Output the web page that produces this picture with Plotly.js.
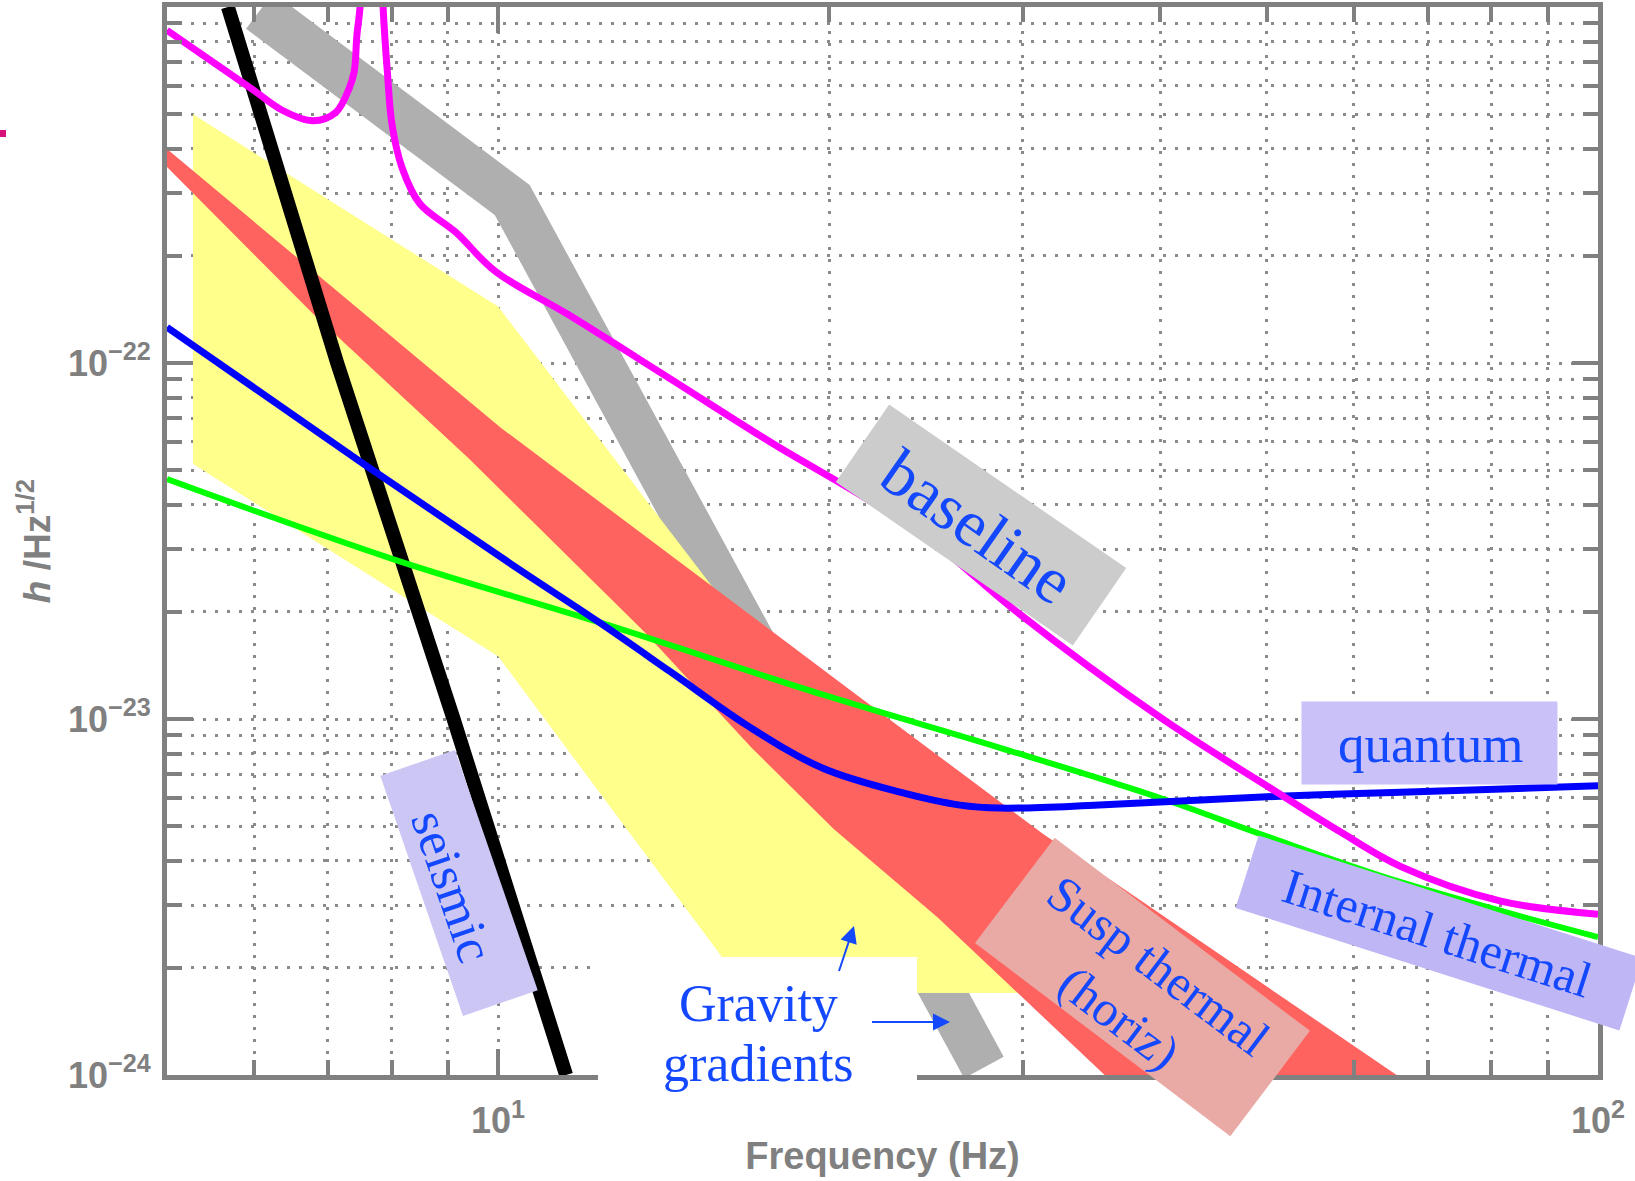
<!DOCTYPE html>
<html><head><meta charset="utf-8">
<script src="https://cdn.plot.ly/plotly-3.0.1.min.js"></script>
<style>html,body{margin:0;padding:0;background:#fff}</style>
</head><body><div id="chart" style="width:1635px;height:1181px"></div>
<script>
// ---------------- data (frequency in Hz, strain h /Hz^1/2) ----------------
const seismicF = [5.68, 7.14, 9.11, 11.53];
const seismicH = [1e-21, 1e-22, 1e-23, 1e-24];

const baselineF = [5.0, 5.48, 5.97, 6.37, 6.79, 7.12, 7.32, 7.40, 7.44, 7.49, 7.55, 7.67, 7.80, 7.86, 7.93, 8.01, 8.18, 8.49, 9.15, 9.94, 11.57, 14.33, 17.74, 21.5, 25.0, 29.5, 40.0, 52.0, 58.3, 66.2, 81.6, 100];
const baselineH = [8.6e-22, 7.07e-22, 5.89e-22, 5.12e-22, 4.79e-22, 5.06e-22, 5.9e-22, 6.6e-22, 8.3e-22, 1.0e-21, 2e-21, 1e-20, 2e-21, 1.0e-21, 6.6e-22, 4.66e-22, 3.53e-22, 2.80e-22, 2.33e-22, 1.81e-22, 1.37e-22, 9.04e-23, 5.96e-23, 4.2e-23, 3.1e-23, 2.02e-23, 1.01e-23, 6.01e-24, 4.82e-24, 3.85e-24, 3.08e-24, 2.83e-24];

const quantumF = [5.0, 7.55, 10.3, 12.35, 14.33, 16.88, 19.74, 23.2, 26.3, 28.6, 35.2, 51.9, 66.2, 100];
const quantumH = [1.26e-22, 5.2e-23, 2.71e-23, 1.87e-23, 1.36e-23, 9.55e-24, 7.27e-24, 6.23e-24, 5.73e-24, 5.62e-24, 5.73e-24, 6.08e-24, 6.23e-24, 6.49e-24];

const internalF = [5.0, 8.06, 12.35, 19.74, 28.6, 40.0, 49.9, 66.2, 100];
const internalH = [4.72e-23, 2.80e-23, 1.87e-23, 1.17e-23, 8.30e-24, 6.0e-24, 4.69e-24, 3.48e-24, 2.44e-24];

const suspUpperF = [5.0, 10.05, 21.1, 31.3, 65.6];
const suspUpperH = [3.99e-22, 6.59e-23, 1.18e-23, 4.75e-24, 1.0e-24];
const suspLowerF = [5.0, 6.78, 9.41, 13.6, 17.0, 20.2, 25.1, 35.6];
const suspLowerH = [3.55e-22, 1.38e-22, 5.38e-23, 1.75e-23, 8.3e-24, 4.9e-24, 2.77e-24, 1.0e-24];

const gravUpperF = [5.28, 10.0, 30.0];
const gravUpperH = [5.0e-22, 1.44e-22, 1.7e-24];
const gravLowerF = [5.28, 10.0, 16.9];
const gravLowerH = [5.2e-23, 1.5e-23, 1.7e-24];

const grayF = [6.07, 10.3, 27.65];
const grayH = [9.76e-22, 2.87e-22, 1.05e-24];

const xTickVals = [10, 100];
const xTickText = ['10<sup>1</sup>', '10<sup>2</sup>'];
const yTickVals = [1e-24, 1e-23, 1e-22];
const yTickText = ['10<sup>\u221224</sup>', '10<sup>\u221223</sup>', '10<sup>\u221222</sup>'];

// ---------------- layout helpers (pixel placement of overlays) ----------------
const Lp = 167, Tp = 7, Wp = 1431, Hp = 1068;
const px = X => (X - Lp) / Wp;
const py = Y => (Tp + Hp - Y) / Hp;
const BLUE = '#1448ff';
const AX = '#808080';
const SERIF = 'Liberation Serif, Times New Roman, serif';
const SANS = 'Liberation Sans, Arial, sans-serif';

function rotBox(cx, cy, w, h, deg, color) {
  const a = deg * Math.PI / 180, c = Math.cos(a), s = Math.sin(a);
  const pts = [[-w/2,-h/2],[w/2,-h/2],[w/2,h/2],[-w/2,h/2]].map(([u,v]) => [cx + u*c - v*s, cy + u*s + v*c]);
  const d = 'M' + pts.map(p => px(p[0]).toFixed(5) + ',' + py(p[1]).toFixed(5)).join(' L') + ' Z';
  return {type:'path', xref:'paper', yref:'paper', path:d, fillcolor:color, line:{color:'rgba(0,0,0,0)', width:0}, layer:'above'};
}
function label(text, cx, cy, deg, size) {
  return {xref:'paper', yref:'paper', x:px(cx), y:py(cy), xanchor:'center', yanchor:'middle',
          text:text, textangle:deg, showarrow:false, font:{family:SERIF, size:size, color:BLUE}};
}
function arrow(hx, hy, tx, ty) {
  return {xref:'paper', yref:'paper', x:px(hx), y:py(hy), ax:tx-hx, ay:ty-hy, axref:'pixel', ayref:'pixel',
          text:' ', showarrow:true, arrowhead:2, arrowsize:1.7, arrowwidth:2, arrowcolor:BLUE, standoff:0,
          font:{size:2}};
}

function band(uf, uh, lf, lh) {
  return {x: uf.concat(lf.slice().reverse()), y: uh.concat(lh.slice().reverse())};
}
const susp = band(suspUpperF, suspUpperH, suspLowerF, suspLowerH);
const grav = band(gravUpperF, gravUpperH, gravLowerF, gravLowerH);

const traces = [
  {x:grayF, y:grayH, mode:'lines', line:{color:'#afafaf', width:45}, hoverinfo:'skip'},
  {x:grav.x, y:grav.y, mode:'lines', fill:'toself', fillcolor:'#ffff8c', line:{width:0, color:'rgba(0,0,0,0)'}, hoverinfo:'skip'},
  {x:susp.x, y:susp.y, mode:'lines', fill:'toself', fillcolor:'#ff6360', line:{width:0, color:'rgba(0,0,0,0)'}, hoverinfo:'skip'},
  {x:seismicF, y:seismicH, mode:'lines', line:{color:'#000000', width:14}},
  {x:internalF, y:internalH, mode:'lines', line:{color:'#00ff00', width:6, shape:'spline', smoothing:1}},
  {x:quantumF, y:quantumH, mode:'lines', line:{color:'#0000ff', width:7, shape:'spline', smoothing:1}},
  {x:baselineF, y:baselineH, mode:'lines', line:{color:'#ff00ff', width:7, shape:'spline', smoothing:1}}
];

const gridStyle = {gridcolor:'#8a8a8a', gridwidth:3, griddash:'3px,9px'};
const tickFont = {family:SANS, size:36, color:AX, weight:'bold'};
function axisBase() {
  return Object.assign({
    type:'log', tickmode:'array', ticks:'inside', ticklen:26, tickwidth:4, tickcolor:AX,
    showline:true, linecolor:AX, linewidth:5, mirror:'ticks', showgrid:true, zeroline:false,
    tickfont:Object.assign({}, tickFont),
    minor:Object.assign({tickmode:'linear', dtick:'D1', ticks:'inside', ticklen:15, tickwidth:4, tickcolor:AX, showgrid:true}, gridStyle)
  }, gridStyle);
}
const xaxis = Object.assign(axisBase(), {
  range:[Math.log10(5), 2], tickvals:xTickVals, ticktext:xTickText, ticklabelstandoff:10,
  title:{text:'Frequency (Hz)', font:{family:SANS, size:38, color:AX, weight:'bold'}, standoff:4}
});
const yaxis = Object.assign(axisBase(), {
  range:[-24, -21], tickvals:yTickVals, ticktext:yTickText, ticklabelstandoff:4,
  title:{text:'<i>h</i> /Hz<sup>1/2</sup>', font:{family:SANS, size:37, color:AX, weight:'bold'}, standoff:8}
});

const shapes = [
  rotBox(459, 883, 254, 79, 71, '#cbc6f4'),
  rotBox(1429.5, 743, 256, 83, 0, '#c9c1f7'),
  rotBox(1439, 933, 403, 76, 17.7, '#bfb6f6'),
  rotBox(1142.5, 987, 320, 132, 37.1, '#e9aaa6'),
  rotBox(981, 525, 288, 94, 34.6, '#cccccc'),
  {type:'rect', xref:'paper', yref:'paper', x0:px(598), x1:px(917), y0:py(1100), y1:py(957), fillcolor:'#ffffff', line:{width:0, color:'rgba(0,0,0,0)'}, layer:'above'},
  {type:'rect', xref:'paper', yref:'paper', x0:px(0), x1:px(6), y0:py(137), y1:py(130), fillcolor:'#d8107a', line:{width:0, color:'rgba(0,0,0,0)'}, layer:'above'}
];

const annotations = [
  label('seismic', 453, 886, 71, 52),
  label('quantum', 1430, 744, 0, 53),
  label('Internal thermal', 1437, 933, 17.7, 50),
  label('Susp thermal<br>(horiz)', 1139, 991, 37, 50),
  label('baseline', 978, 526, 35, 66),
  label('Gravity', 758, 1003, 0, 52),
  label('gradients', 758, 1063, 0, 52),
  arrow(854, 926, 838, 974),
  arrow(950, 1022, 870, 1022)
];

const layout = {
  width:1635, height:1181,
  margin:{l:167, r:37, t:7, b:106, autoexpand:false},
  paper_bgcolor:'#ffffff', plot_bgcolor:'#ffffff',
  showlegend:false, hovermode:false,
  xaxis:xaxis, yaxis:yaxis,
  shapes:shapes, annotations:annotations
};

Plotly.newPlot('chart', traces, layout, {displayModeBar:false, staticPlot:true});
</script></body></html>
